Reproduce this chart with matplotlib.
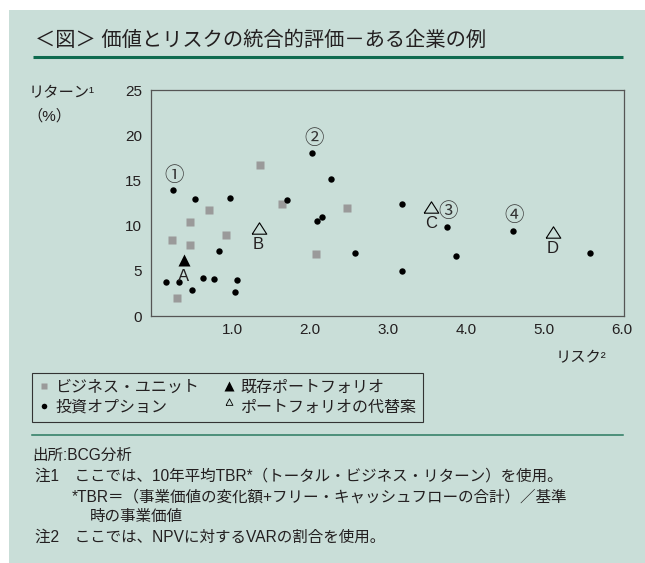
import matplotlib
matplotlib.use("Agg")
import matplotlib.pyplot as plt
from matplotlib.patches import Rectangle
from matplotlib.lines import Line2D

# ---- data -------------------------------------------------------------
unit_risk = [0.23, 0.29, 0.46, 0.46, 0.70, 0.92, 1.36, 1.64, 2.08, 2.48]
unit_return = [8.4, 2.0, 10.4, 7.9, 11.7, 9.0, 16.7, 12.4, 6.9, 11.9]

option_risk = [0.24, 0.53, 0.97, 0.83, 0.15, 0.32, 0.49, 0.63, 0.77, 1.06,
               1.04, 2.03, 1.70, 2.09, 2.15, 2.27, 2.58, 3.18, 3.18, 3.76,
               3.88, 4.60, 5.59]
option_return = [13.9, 12.9, 13.0, 7.2, 3.8, 3.8, 2.9, 4.2, 4.1, 4.0,
                 2.7, 18.0, 12.8, 10.5, 11.0, 15.1, 7.0, 12.4, 5.0, 9.9,
                 6.6, 9.4, 7.0]

current_risk = [0.38]
current_return = [6.2]
current_labels = ["A"]

alt_risk = [1.34, 3.55, 5.12]
alt_return = [9.7, 12.1, 9.3]
alt_labels = ["B", "C", "D"]

# investment options singled out with circled numbers
pick_labels = ["①", "②", "③", "④"]
pick_risk = [0.24, 2.03, 3.76, 4.60]
pick_return = [13.9, 18.0, 9.9, 9.4]

x_ticks = [1, 2, 3, 4, 5, 6]
x_tick_labels = ["1.0", "2.0", "3.0", "4.0", "5.0", "6.0"]
y_ticks = [0, 5, 10, 15, 20, 25]

legend_labels = ["ビジネス・ユニット", "投資オプション", "既存ポートフォリオ", "ポートフォリオの代替案"]

title = "＜図＞ 価値とリスクの統合的評価－ある企業の例"
source = "出所:BCG分析"
notes = [
    ("注1　ここでは、10年平均TBR*（トータル・ビジネス・リターン）を使用。", 35, 476),
    ("*TBR＝（事業価値の変化額+フリー・キャッシュフローの合計）／基準", 72, 497),
    ("時の事業価値", 90, 517),
    ("注2　ここでは、NPVに対するVARの割合を使用。", 35, 537),
]

# ---- style ------------------------------------------------------------
BG = "#C9DED8"
GREEN = "#0E6B4F"
INK = "#231F20"
GRAY = "#9A9A9A"
FAM = ["Liberation Sans", "Noto Sans CJK JP"]
plt.rcParams["font.family"] = FAM

W, H = 645, 563
fig = plt.figure(figsize=(W / 100, H / 100), dpi=100, facecolor="white")


def fx(x):
    return x / W


def fy(y):
    return 1 - y / H


# tinted panel (runs off the right and bottom edges)
fig.patches.append(Rectangle((fx(9), -0.05), 1.2, fy(10) + 0.05, transform=fig.transFigure,
                             facecolor=BG, edgecolor="none", zorder=-10))

# title and rule
fig.text(fx(35), fy(40), title, fontsize=14.6, color=INK, va="center", ha="left")
fig.add_artist(Line2D([fx(33), fx(623)], [fy(56.5), fy(56.5)], transform=fig.transFigure,
                      color=GREEN, lw=2.2, solid_capstyle="butt"))

# ---- scatter ----------------------------------------------------------
ax = fig.add_axes([fx(151), fy(316), fx(624) - fx(151), fy(90) - fy(316)])
ax.set_facecolor("none")
ax.set_xlim(-0.04, 6.03)
ax.set_ylim(0, 25)
for s in ax.spines.values():
    s.set_color("#555555")
    s.set_linewidth(0.9)
ax.set_xticks(x_ticks)
ax.set_xticklabels(x_tick_labels)
ax.set_yticks(y_ticks)
ax.tick_params(length=0, labelsize=11, labelcolor=INK)
ax.tick_params(axis="y", pad=6.5)
ax.tick_params(axis="x", pad=5)

ax.plot(unit_risk, unit_return, ls="none", marker="s", ms=6.2, color=GRAY, mec="none", zorder=2)
ax.plot(option_risk, option_return, ls="none", marker="o", ms=4.6, color="black", mec="none", zorder=3)
ax.plot(current_risk, current_return, ls="none", marker="^", ms=8, color="black", mec="none", zorder=3)
tri_wide = [(-1.0, -0.78), (1.0, -0.78), (0.0, 0.78), (-1.0, -0.78)]
ax.plot(alt_risk, alt_return, ls="none", marker=tri_wide, ms=10.5, mfc="none", mec="black",
        mew=0.8, zorder=3)

for lab, x, y in zip(current_labels + alt_labels, current_risk + alt_risk, current_return + alt_return):
    ax.annotate(lab, (x, y), xytext=(0, -12), textcoords="offset points", ha="center",
                va="center", fontsize=12, color=INK)

for lab, x, y in zip(pick_labels, pick_risk, pick_return):
    ax.annotate(lab, (x, y), xytext=(1, 11), textcoords="offset points", ha="center",
                va="center", fontsize=14, color="#333333", family=["Noto Sans CJK JP"])

# axis captions
fig.text(fx(29), fy(93), "リターン¹", fontsize=11, color=INK, va="center", ha="left")
fig.text(fx(27), fy(116), "（%）", fontsize=11, color=INK, va="center", ha="left")
fig.text(fx(606), fy(358), "リスク²", fontsize=11, color=INK, va="center", ha="right")

# ---- legend -----------------------------------------------------------
tri_small_up = [(-0.45, 0.15), (0.45, 0.15), (0.0, 1.0), (-0.45, 0.15)]
handles = [
    Line2D([], [], ls="none", marker="s", ms=5, color=GRAY, mec="none"),
    Line2D([], [], ls="none", marker="o", ms=4, color="black", mec="none"),
    Line2D([], [], ls="none", marker="^", ms=6.5, color="black", mec="none"),
    Line2D([], [], ls="none", marker=tri_small_up, ms=11, mfc="none", mec="black", mew=0.6),
]
leg = fig.legend(handles, legend_labels, ncol=2, loc="upper left",
                 bbox_to_anchor=(fx(32), fy(373)), bbox_transform=fig.transFigure,
                 borderaxespad=0, frameon=True, fancybox=False, fontsize=11.5,
                 handlelength=0.7, handletextpad=0.35, columnspacing=1.5,
                 labelspacing=0.33, borderpad=0.42, labelcolor=INK)
fr = leg.get_frame()
fr.set_edgecolor("#333333")
fr.set_linewidth(0.8)
fr.set_facecolor(BG)
fr.set_alpha(1)

# ---- footer -----------------------------------------------------------
fig.add_artist(Line2D([fx(32), fx(623)], [fy(435), fy(435)], transform=fig.transFigure,
                      color="#2A7A60", lw=1.1))
fig.text(fx(32), fy(455), source, fontsize=11.2, color=INK, va="center", ha="left")
for txt, x, y in notes:
    fig.text(fx(x), fy(y), txt, fontsize=11.2, color=INK, va="center", ha="left")

fig.savefig("out.png", dpi=100, facecolor="white")
